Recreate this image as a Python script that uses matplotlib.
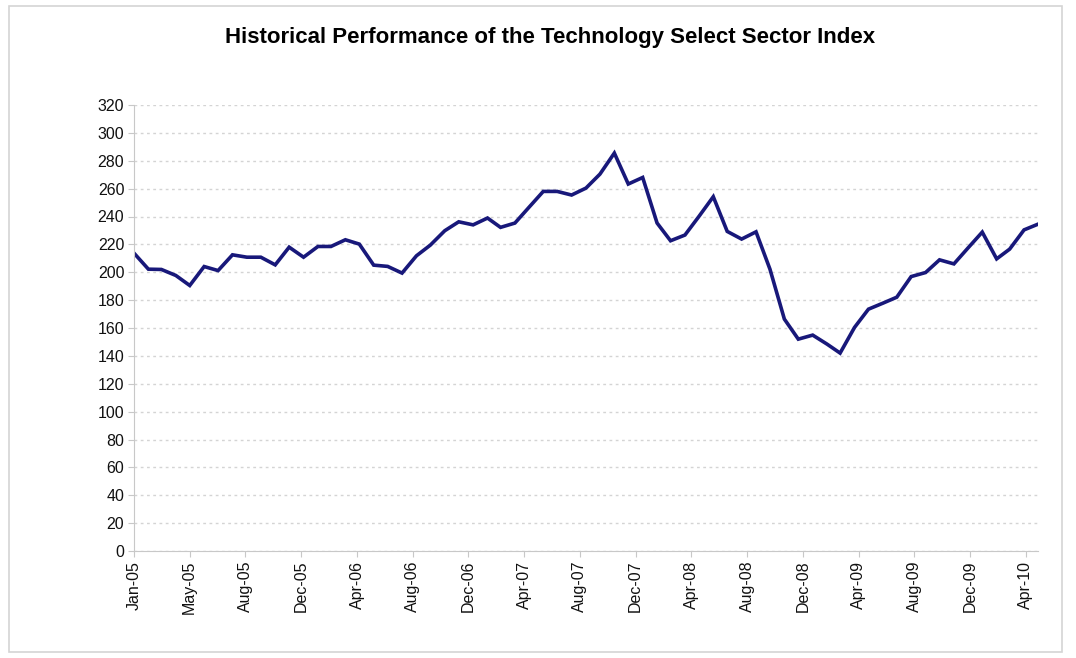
import matplotlib
matplotlib.use('Agg')
import matplotlib.pyplot as plt
import matplotlib.dates as mdates
from matplotlib.patches import Rectangle
import pandas as pd

# monthly index level, Jan-05 .. May-10
dates = pd.date_range('2005-01-01', periods=65, freq='MS')
index_level = [213.7, 202.2, 202.0, 197.7, 190.5, 204.1, 201.2, 212.5, 210.8, 210.8,
               205.3, 218.0, 210.8, 218.5, 218.5, 223.3, 220.2, 205.1, 204.2, 199.4,
               211.8, 219.5, 229.8, 236.2, 234.0, 238.9, 232.2, 235.3, 246.5, 258.0,
               258.0, 255.4, 260.4, 270.4, 285.5, 263.3, 268.0, 235.3, 222.6, 226.7,
               240.0, 254.2, 229.3, 223.8, 229.0, 202.2, 166.4, 152.0, 154.9, 148.4,
               142.0, 160.4, 173.5, 177.8, 182.1, 196.9, 199.8, 208.9, 206.0, 217.3,
               228.8, 209.6, 216.6, 230.4, 234.5]
tick_dates = pd.date_range('2005-01-01', '2010-05-01', freq='120D')
yticks = list(range(0, 321, 20))
title = 'Historical Performance of the Technology Select Sector Index'

plt.rcParams['font.family'] = ['Liberation Sans', 'DejaVu Sans']

fig = plt.figure(figsize=(10.76, 6.58), dpi=100)
fig.patches.append(Rectangle((9/1076, 6/658), 1053/1076, 646/658, transform=fig.transFigure,
                             fill=False, edgecolor='#d4d4d4', linewidth=1.2))
ax = fig.add_axes([134/1076, 107/658, 904/1076, 446/658])

ax.plot(dates, index_level, color='#18187a', linewidth=2.6, solid_joinstyle='miter')

ax.set_ylim(0, 320)
ax.set_yticks(yticks)
ax.set_xlim(dates[0], dates[-1])
ax.set_xticks(tick_dates)
ax.xaxis.set_major_formatter(mdates.DateFormatter('%b-%y'))
plt.setp(ax.get_xticklabels(), rotation=90)

ax.grid(axis='y', color='#d4d4d4', linestyle=(0, (2, 2.5)), linewidth=1.0)
ax.set_axisbelow(True)
for s in ['top', 'right']:
    ax.spines[s].set_visible(False)
for s in ['left', 'bottom']:
    ax.spines[s].set_color('#c8c8c8')
ax.tick_params(axis='both', colors='#c8c8c8', labelcolor='#111111', labelsize=11.5, length=4)
ax.tick_params(axis='y', pad=3)
ax.tick_params(axis='x', pad=3)

fig.text(550/1076, 1 - 38/658, title, ha='center', va='center', fontsize=16,
         fontweight='bold')

fig.savefig('out.png', dpi=100, facecolor='white')
